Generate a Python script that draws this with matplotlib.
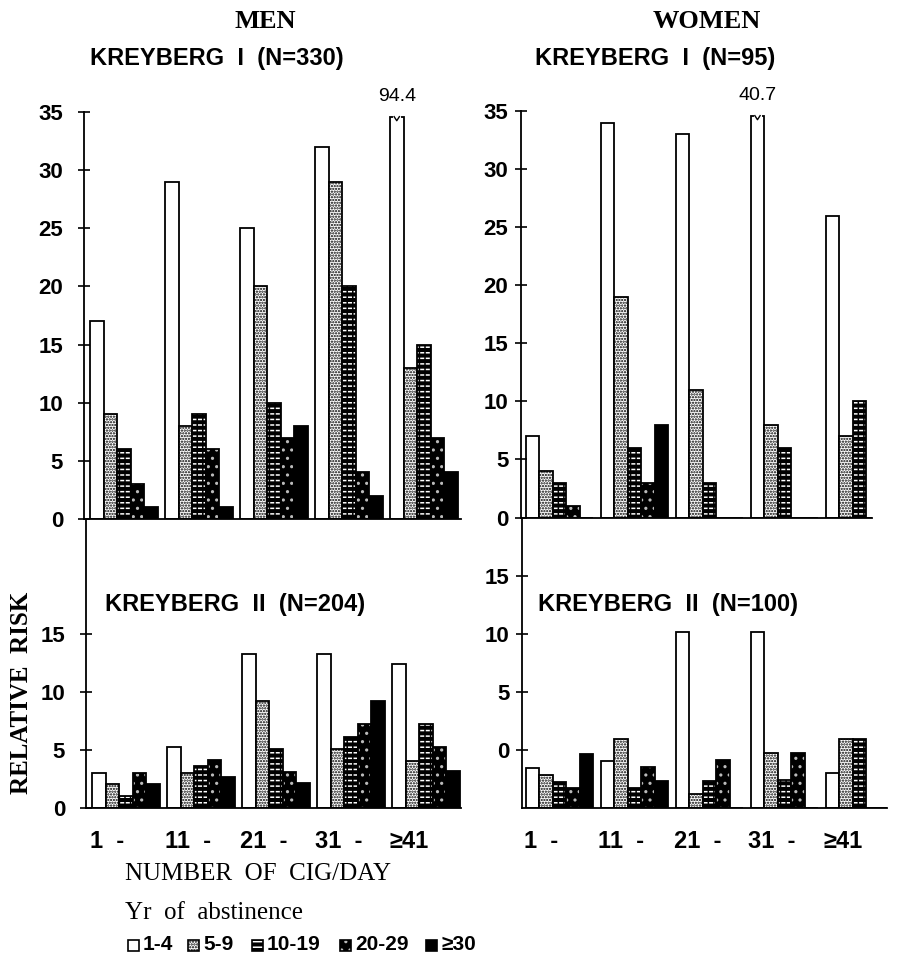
import numpy as np
import matplotlib.pyplot as plt
from matplotlib.patches import Rectangle

# cigarettes per day groups and years of abstinence classes
cig_groups = ['1  -', '11  -', '21  -', '31  -', '\u226541']
abst_classes = ['1-4', '5-9', '10-19', '20-29', '\u226530']

# rows = abstinence class, columns = cig group
men_k1 = [
    [17, 29, 25, 32, 94.4],
    [9, 8, 20, 29, 13],
    [6, 9, 10, 20, 15],
    [3, 6, 7, 4, 7],
    [1, 1, 8, 2, 4],
]
women_k1 = [
    [7, 34, 33, 40.7, 26],
    [4, 19, 11, 8, 7],
    [3, 6, 3, 6, 10],
    [1, 3, 0, 0, 0],
    [0, 8, 0, 0, 0],
]
men_k2 = [
    [3.0, 5.2, 13.3, 13.3, 12.4],
    [2.0, 3.0, 9.2, 5.1, 4.0],
    [1.0, 3.6, 5.1, 6.1, 7.2],
    [3.0, 4.1, 3.1, 7.2, 5.2],
    [2.0, 2.6, 2.1, 9.2, 3.2],
]
women_k2 = [
    [3.4, 4.0, 15.2, 15.2, 3.0],
    [2.8, 5.9, 1.2, 4.7, 5.9],
    [2.2, 1.7, 2.3, 2.4, 5.9],
    [1.7, 3.5, 4.1, 4.7, 0],
    [4.6, 2.3, 0, 0, 0],
]

top_ticks = [0, 5, 10, 15, 20, 25, 30, 35]
men_k2_ticks = [0, 5, 10, 15]
men_k2_labels = ['0', '5', '10', '15']
# the printed women panel has its labels shifted by one step
women_k2_ticks = [5, 10, 15, 20]
women_k2_labels = ['0', '5', '10', '15']

CAP = 34.6
BW = 0.18
W, H = 898, 968
SANS = 'Liberation Sans'
SERIF = 'Liberation Serif'

plt.rcParams['hatch.linewidth'] = 1.1

fig = plt.figure(figsize=(W / 100, H / 100), dpi=100)


def px_axes(left, top, right, bottom):
    return fig.add_axes([left / W, 1 - bottom / H, (right - left) / W, (bottom - top) / H])


def draw_bars(ax, data):
    x = np.arange(len(cig_groups))
    for k, vals in enumerate(data):
        shown = [min(v, CAP) for v in vals]
        pos = x + (k - 2) * BW
        if k == 0:
            ax.bar(pos, shown, BW, facecolor='white', edgecolor='black', lw=1.3)
        elif k == 1:
            ax.bar(pos, shown, BW, facecolor='white', edgecolor='black', hatch='......', lw=0)
            ax.bar(pos, shown, BW, fill=False, edgecolor='black', lw=1.3)
        elif k == 2:
            ax.bar(pos, shown, BW, facecolor='black', lw=0)
            ax.bar(pos, shown, BW, fill=False, edgecolor='white', hatch='---', lw=0)
            ax.bar(pos, shown, BW, fill=False, edgecolor='black', hatch='|||', lw=0)
            ax.bar(pos, shown, BW, fill=False, edgecolor='black', lw=1.3)
        elif k == 3:
            ax.bar(pos, shown, BW, facecolor='black', edgecolor='#bbbbbb', hatch='..', lw=0)
            ax.bar(pos, shown, BW, fill=False, edgecolor='black', lw=1.3)
        else:
            ax.bar(pos, shown, BW, facecolor='black', edgecolor='black', lw=1.3)
        for xi, v in zip(pos, vals):
            if v > CAP:
                # broken bar: small notch on the top edge, true value written above
                ax.plot([xi - 0.035, xi + 0.035], [CAP, CAP], color='white', lw=2.2)
                ax.plot([xi - 0.035, xi, xi + 0.035], [CAP, CAP - 0.35, CAP],
                        color='black', lw=1.0)
                ax.text(xi, CAP + 1.0, f'{v}', ha='center', va='bottom',
                        family=SANS, fontsize=14, clip_on=False)


def style_axes(ax, xl, yl, ticks, labels, pad, xlabels):
    ax.set_xlim(*xl)
    ax.set_ylim(*yl)
    for s in ['top', 'right']:
        ax.spines[s].set_visible(False)
    ax.spines['left'].set_linewidth(1.3)
    ax.spines['bottom'].set_linewidth(1.3)
    ax.set_yticks(ticks)
    ax.set_yticklabels(labels, family=SANS, fontweight='bold', fontsize=16)
    ax.tick_params(axis='y', direction='inout', length=8, width=1.2, pad=pad)
    if xlabels:
        ax.set_xticks(np.arange(len(cig_groups)) - 0.48)
        ax.set_xticklabels(cig_groups, ha='left', family=SANS, fontweight='bold', fontsize=17)
        ax.tick_params(axis='x', length=0, pad=16)
    else:
        ax.set_xticks([])
    ax.patch.set_alpha(0)


# men
ax = px_axes(84, 112, 461, 519)
draw_bars(ax, men_k1)
style_axes(ax, (-0.53, -0.53 + 377 / 75), (0, 35), top_ticks,
           [str(t) for t in top_ticks], 11, False)

ax = px_axes(86, 519, 461, 807.5)
draw_bars(ax, men_k2)
style_axes(ax, (-0.53, -0.53 + 375 / 75), (0, 25), men_k2_ticks, men_k2_labels, 11, True)

# women
ax = px_axes(521, 111, 872, 517.5)
draw_bars(ax, women_k1)
style_axes(ax, (-0.513, -0.513 + 351 / 75), (0, 35), top_ticks,
           [str(t) for t in top_ticks], 5, False)

ax = px_axes(522, 517.5, 887, 807.5)
draw_bars(ax, women_k2)
style_axes(ax, (-0.50, -0.50 + 365 / 75), (0, 25.1), women_k2_ticks, women_k2_labels, 5, True)

# headings
fig.text(265 / W, 1 - 22 / H, 'MEN', ha='center', va='center', family=SERIF,
         fontweight='bold', fontsize=19)
fig.text(707 / W, 1 - 22 / H, 'WOMEN', ha='center', va='center', family=SERIF,
         fontweight='bold', fontsize=19)
fig.text(90 / W, 1 - 58 / H, 'KREYBERG  I  (N=330)', ha='left', va='center',
         family=SANS, fontweight='bold', fontsize=17)
fig.text(535 / W, 1 - 58 / H, 'KREYBERG  I  (N=95)', ha='left', va='center',
         family=SANS, fontweight='bold', fontsize=17)
fig.text(105 / W, 1 - 605 / H, 'KREYBERG  II  (N=204)', ha='left', va='center',
         family=SANS, fontweight='bold', fontsize=17)
fig.text(538 / W, 1 - 605 / H, 'KREYBERG  II  (N=100)', ha='left', va='center',
         family=SANS, fontweight='bold', fontsize=17)
fig.text(22 / W, 1 - 693 / H, 'RELATIVE  RISK', rotation=90, ha='center', va='center',
         family=SERIF, fontweight='bold', fontsize=18)
fig.text(125 / W, 1 - 874 / H, 'NUMBER  OF  CIG/DAY', ha='left', va='center',
         family=SERIF, fontsize=18)
fig.text(125 / W, 1 - 913 / H, 'Yr  of  abstinence', ha='left', va='center',
         family=SERIF, fontsize=18)

# legend
leg_x = [128, 188, 252, 340, 426]
for k, (lx, lab) in enumerate(zip(leg_x, abst_classes)):
    y0 = 1 - 951 / H
    w, h = 11 / W, 11 / H
    kw = dict(transform=fig.transFigure)
    if k == 0:
        fig.patches.append(Rectangle((lx / W, y0), w, h, facecolor='white', edgecolor='black', lw=1.2, **kw))
    elif k == 1:
        fig.patches.append(Rectangle((lx / W, y0), w, h, facecolor='white', edgecolor='black', hatch='......', lw=1.2, **kw))
    elif k == 2:
        fig.patches.append(Rectangle((lx / W, y0), w, h, facecolor='black', edgecolor='white', hatch='---', lw=0, **kw))
        fig.patches.append(Rectangle((lx / W, y0), w, h, fill=False, edgecolor='black', lw=1.2, **kw))
    elif k == 3:
        fig.patches.append(Rectangle((lx / W, y0), w, h, facecolor='black', edgecolor='#bbbbbb', hatch='..', lw=0, **kw))
        fig.patches.append(Rectangle((lx / W, y0), w, h, fill=False, edgecolor='black', lw=1.2, **kw))
    else:
        fig.patches.append(Rectangle((lx / W, y0), w, h, facecolor='black', edgecolor='black', lw=1.2, **kw))
    fig.text((lx + 15) / W, 1 - 945 / H, lab, ha='left', va='center',
             family=SANS, fontweight='bold', fontsize=15)

fig.savefig('out.png', dpi=100)
